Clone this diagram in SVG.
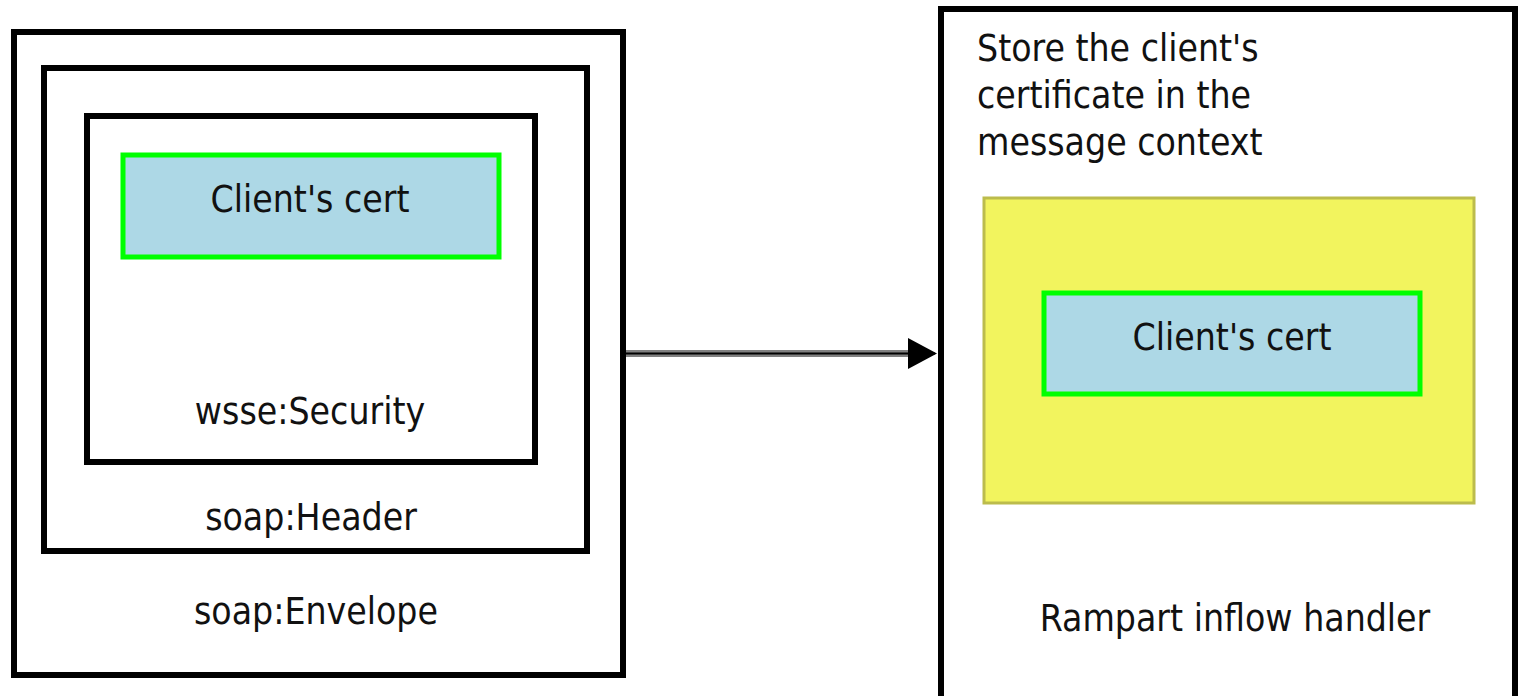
<svg xmlns="http://www.w3.org/2000/svg" width="1521" height="696" viewBox="0 0 1521 696">
<style>
.box{fill:#ffffff;stroke:#000000;stroke-width:6}
.cert{fill:#add8e6;stroke:#00ff00;stroke-width:5}
.t{font-family:"DejaVu Sans Condensed","DejaVu Sans",sans-serif;font-stretch:condensed;font-size:37px;fill:#111111}
.c{text-anchor:middle}
</style>
<rect width="1521" height="696" fill="#ffffff"/>
<g id="envelope">
<rect class="box" x="14" y="32" width="609" height="643"/>
<text class="t c" x="316" y="624">soap:Envelope</text>
</g>
<g id="header">
<rect class="box" x="44" y="68" width="543" height="483"/>
<text class="t c" x="311" y="530">soap:Header</text>
</g>
<g id="security">
<rect class="box" x="87" y="116" width="448" height="346"/>
<text class="t c" x="310" y="424">wsse:Security</text>
</g>
<g id="cert-left">
<rect class="cert" x="123" y="155" width="376" height="102"/>
<text class="t c" x="310" y="212">Client's cert</text>
</g>
<g id="handler">
<rect class="box" x="941" y="9" width="574" height="720"/>
<text class="t" x="977" y="61">Store the client's</text>
<text class="t" x="977" y="108">certificate in the</text>
<text class="t" x="977" y="155">message context</text>
<text class="t c" x="1235" y="631">Rampart inflow handler</text>
</g>
<g id="context">
<rect x="984" y="198" width="490" height="305" fill="#f2f45e" stroke="#bcbc4c" stroke-width="3"/>
</g>
<g id="cert-right">
<rect class="cert" x="1044" y="293" width="376" height="101"/>
<text class="t c" x="1232" y="350">Client's cert</text>
</g>
<g id="connectors">
<line x1="626" y1="353.5" x2="912" y2="353.5" stroke="#808080" stroke-width="7"/>
<line x1="626" y1="353.5" x2="935" y2="353.5" stroke="#000000" stroke-width="2"/>
<polygon points="908,338 937,353.5 908,369" fill="#000000"/>
</g>
</svg>
